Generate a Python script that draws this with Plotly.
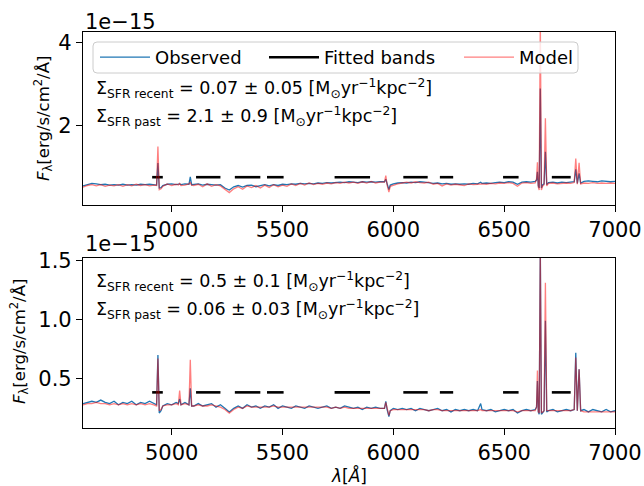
import plotly.graph_objects as go

# ---------------- data (flux in units of 1e-15 erg/s/cm2/A) ----------------
wavelength = [
    4600, 4620, 4640, 4660, 4680, 4700, 4720, 4740, 4760, 4780, 4800, 4820, 4840, 4860, 4880, 4900, 4920,
    4932, 4938, 4944,
    4952, 4960, 4980, 5000, 5020,
    5030, 5036, 5042,
    5060, 5078, 5084, 5090,
    5100, 5120, 5140, 5160, 5180, 5200, 5220, 5240, 5260, 5280, 5300, 5320, 5340, 5360, 5380, 5400,
    5420, 5440, 5460, 5480, 5500, 5520, 5540, 5560, 5580, 5600, 5620, 5640, 5660, 5680, 5700, 5720,
    5740, 5760, 5780, 5800, 5820, 5840, 5860, 5880, 5900, 5920, 5940,
    5960, 5966, 5972, 5980, 5986,
    6000, 6020, 6040, 6060, 6080, 6100, 6120, 6140, 6160, 6180, 6200, 6220, 6240, 6260, 6280, 6300,
    6320, 6340, 6360, 6380,
    6394,
    6400, 6420, 6440, 6460, 6480, 6500, 6520, 6540, 6560, 6580, 6600, 6620, 6640,
    6646, 6650, 6654, 6658, 6663, 6668, 6674, 6680, 6686, 6692,
    6700, 6720, 6740, 6760, 6780, 6800,
    6816, 6823, 6830, 6838, 6845,
    6860, 6880, 6900, 6920, 6940, 6960, 6980, 7000,
]

top_observed = [
    0.55, 0.58, 0.61, 0.60, 0.58, 0.59, 0.57, 0.58, 0.57, 0.59, 0.57, 0.58, 0.57, 0.59, 0.58, 0.59, 0.58,
    0.57, 1.10, 0.50,
    0.51, 0.56, 0.59, 0.60, 0.58,
    0.59, 0.60, 0.58,
    0.60, 0.59, 0.77, 0.58,
    0.59, 0.60, 0.57, 0.59, 0.58, 0.57, 0.58, 0.50, 0.45, 0.53, 0.56, 0.52, 0.56, 0.57, 0.53, 0.56,
    0.58, 0.55, 0.58, 0.56, 0.59, 0.58, 0.60, 0.59, 0.61, 0.60, 0.61, 0.60, 0.62, 0.61, 0.63, 0.62,
    0.63, 0.64, 0.63, 0.65, 0.64, 0.63, 0.65, 0.64, 0.65, 0.64, 0.65,
    0.65, 0.71, 0.59, 0.46, 0.57,
    0.60, 0.62, 0.63, 0.62, 0.64, 0.63, 0.65, 0.64, 0.63, 0.61, 0.62, 0.60, 0.61, 0.59, 0.60, 0.59,
    0.60, 0.59, 0.61, 0.60,
    0.64,
    0.61, 0.62, 0.61, 0.63, 0.64, 0.63, 0.65, 0.64, 0.59, 0.64, 0.65, 0.64, 0.66,
    0.69, 0.89, 0.55, 0.50, 2.90, 0.50, 0.58, 0.60, 1.37, 0.58,
    0.63, 0.64, 0.62, 0.64, 0.63, 0.65,
    0.65, 0.95, 0.61, 0.85, 0.62,
    0.66, 0.67, 0.66, 0.65, 0.67, 0.66, 0.65, 0.66,
]

top_model = [
    0.52, 0.56, 0.58, 0.55, 0.58, 0.54, 0.57, 0.55, 0.58, 0.54, 0.58, 0.55, 0.59, 0.56, 0.58, 0.55, 0.57,
    0.56, 1.50, 0.46,
    0.48, 0.54, 0.60, 0.56, 0.59,
    0.57, 0.61, 0.56,
    0.57, 0.60, 0.63, 0.57,
    0.56, 0.59, 0.53, 0.60, 0.54, 0.58, 0.55, 0.46, 0.39, 0.48, 0.53, 0.47, 0.55, 0.51, 0.56, 0.50,
    0.57, 0.51, 0.58, 0.53, 0.57, 0.54, 0.60, 0.56, 0.61, 0.57, 0.62, 0.58, 0.61, 0.59, 0.62, 0.60,
    0.63, 0.61, 0.64, 0.62, 0.64, 0.61, 0.65, 0.62, 0.66, 0.62, 0.64,
    0.64, 0.80, 0.57, 0.40, 0.54,
    0.57, 0.60, 0.62, 0.64, 0.62, 0.65, 0.63, 0.62, 0.64, 0.59, 0.61, 0.55, 0.60, 0.57, 0.59, 0.58,
    0.56, 0.60, 0.58, 0.59,
    0.60,
    0.60, 0.59, 0.61, 0.60, 0.62, 0.61, 0.63, 0.61, 0.54, 0.62, 0.63, 0.61, 0.62,
    0.72, 1.12, 0.52, 0.45, 4.60, 0.45, 0.55, 0.58, 2.18, 0.55,
    0.61, 0.62, 0.60, 0.61, 0.62, 0.61,
    0.63, 1.21, 0.59, 1.11, 0.60,
    0.62, 0.61, 0.63, 0.61, 0.62, 0.61, 0.62, 0.61,
]

bottom_observed = [
    0.29, 0.30, 0.31, 0.30, 0.32, 0.30, 0.29, 0.31, 0.28, 0.30, 0.29, 0.31, 0.28, 0.30, 0.29, 0.31, 0.29,
    0.28, 0.70, 0.21,
    0.23, 0.27, 0.29, 0.28, 0.30,
    0.29, 0.33, 0.28,
    0.30, 0.28, 0.42, 0.27,
    0.27, 0.29, 0.27, 0.28, 0.29, 0.26, 0.28, 0.25, 0.22, 0.25, 0.27, 0.25, 0.28, 0.26, 0.27, 0.25,
    0.27, 0.26, 0.28, 0.25, 0.27, 0.26, 0.25, 0.27, 0.26, 0.25, 0.27, 0.26, 0.25, 0.26, 0.27, 0.25,
    0.26, 0.25, 0.27, 0.26, 0.25, 0.26, 0.24, 0.26, 0.25, 0.26, 0.25,
    0.25, 0.31, 0.24, 0.18, 0.23,
    0.25, 0.24, 0.25, 0.24, 0.25, 0.23, 0.25, 0.24, 0.23, 0.24, 0.25, 0.23, 0.24, 0.22, 0.24, 0.23,
    0.24, 0.23, 0.24, 0.23,
    0.29,
    0.24, 0.23, 0.24, 0.22, 0.23, 0.24, 0.23, 0.24, 0.21, 0.23, 0.24, 0.23, 0.24,
    0.26, 0.48, 0.22, 0.20, 1.60, 0.20, 0.22, 0.23, 0.99, 0.22,
    0.23, 0.24, 0.22, 0.23, 0.24, 0.23,
    0.24, 0.72, 0.23, 0.58, 0.23,
    0.24, 0.22, 0.24, 0.23, 0.22, 0.24, 0.22, 0.23,
]

bottom_model = [
    0.28, 0.29, 0.29, 0.30, 0.29, 0.29, 0.28, 0.29, 0.28, 0.29, 0.28, 0.29, 0.28, 0.29, 0.28, 0.29, 0.28,
    0.27, 0.67, 0.23,
    0.24, 0.27, 0.28, 0.28, 0.29,
    0.28, 0.40, 0.28,
    0.29, 0.28, 0.66, 0.27,
    0.27, 0.28, 0.27, 0.27, 0.28, 0.27, 0.26, 0.24, 0.21, 0.24, 0.26, 0.25, 0.27, 0.26, 0.26, 0.26,
    0.26, 0.26, 0.27, 0.26, 0.26, 0.26, 0.26, 0.26, 0.26, 0.26, 0.26, 0.26, 0.26, 0.26, 0.26, 0.25,
    0.26, 0.25, 0.26, 0.25, 0.25, 0.25, 0.25, 0.25, 0.25, 0.25, 0.25,
    0.25, 0.30, 0.24, 0.19, 0.23,
    0.24, 0.24, 0.24, 0.24, 0.24, 0.24, 0.24, 0.24, 0.23, 0.24, 0.24, 0.23, 0.23, 0.23, 0.23, 0.23,
    0.23, 0.23, 0.23, 0.23,
    0.24,
    0.23, 0.23, 0.23, 0.23, 0.23, 0.23, 0.23, 0.23, 0.22, 0.23, 0.23, 0.23, 0.23,
    0.26, 0.57, 0.22, 0.21, 1.58, 0.21, 0.22, 0.23, 1.31, 0.23,
    0.23, 0.23, 0.23, 0.23, 0.23, 0.23,
    0.24, 0.68, 0.23, 0.58, 0.23,
    0.22, 0.22, 0.22, 0.22, 0.22, 0.22, 0.22, 0.22,
]

band_start = [4912, 5110, 5285, 5430, 5735, 6045, 6210, 6495, 6715]
band_end = [4960, 5220, 5400, 5505, 5895, 6155, 6270, 6565, 6800]
band_level_top = 0.76
band_level_bottom = 0.385

sfr_recent = ["0.07 ± 0.05", "0.5 ± 0.1"]
sfr_past = ["2.1 ± 0.9", "0.06 ± 0.03"]

x_ticks = [5000, 5500, 6000, 6500, 7000]
top_y_ticks = [2, 4]
bottom_y_ticks = [0.5, 1.0, 1.5]

# ---------------- figure ----------------
FONT = "DejaVu Sans"
BLUE = "#1f77b4"
RED = "rgba(255,0,0,0.5)"


def band_xy(level):
    xs, ys = [], []
    for s, e in zip(band_start, band_end):
        xs += [s, e, None]
        ys += [level, level, None]
    return xs, ys


fig = go.Figure()

bx, by = band_xy(band_level_top)
fig.add_trace(go.Scatter(x=wavelength, y=top_observed, mode="lines", name="Observed",
                         line=dict(color=BLUE, width=1.3), xaxis="x", yaxis="y", legend="legend"))
fig.add_trace(go.Scatter(x=bx, y=by, mode="lines", name="Fitted bands",
                         line=dict(color="black", width=2.6), xaxis="x", yaxis="y", legend="legend2"))
fig.add_trace(go.Scatter(x=wavelength, y=top_model, mode="lines", name="Model",
                         line=dict(color=RED, width=1.3), xaxis="x", yaxis="y", legend="legend3"))

bx2, by2 = band_xy(band_level_bottom)
fig.add_trace(go.Scatter(x=wavelength, y=bottom_observed, mode="lines", showlegend=False,
                         line=dict(color=BLUE, width=1.3), xaxis="x2", yaxis="y2"))
fig.add_trace(go.Scatter(x=bx2, y=by2, mode="lines", showlegend=False,
                         line=dict(color="black", width=2.6), xaxis="x2", yaxis="y2"))
fig.add_trace(go.Scatter(x=wavelength, y=bottom_model, mode="lines", showlegend=False,
                         line=dict(color=RED, width=1.3), xaxis="x2", yaxis="y2"))

# geometry helpers (pixel -> paper)
L, R, T, B = 83, 29, 32, 58
W, H = 644, 486
PW, PH = W - L - R, H - T - B


def px(xp):
    return (xp - L) / PW


def py(yp):
    return (H - B - yp) / PH


axis_common = dict(showline=True, mirror=True, linecolor="black", linewidth=1.2,
                   ticks="outside", ticklen=6, tickwidth=1.2, tickcolor="black",
                   showgrid=False, zeroline=False, automargin=False,
                   tickfont=dict(family=FONT, size=21, color="black"))

fig.update_layout(
    width=W, height=H, autosize=False,
    margin=dict(l=L, r=R, t=T, b=B, autoexpand=False),
    paper_bgcolor="white", plot_bgcolor="white",
    font=dict(family=FONT, color="black"),
    xaxis=dict(domain=[0, 1], range=[4600, 7000], anchor="y", tickvals=x_ticks, **axis_common),
    yaxis=dict(domain=[py(205), 1], range=[0.09, 4.26], anchor="x", tickvals=top_y_ticks, **axis_common),
    xaxis2=dict(domain=[0, 1], range=[4600, 7000], anchor="y2", tickvals=x_ticks, **axis_common),
    yaxis2=dict(domain=[0, py(258)], range=[0.084, 1.52], anchor="x2", tickvals=bottom_y_ticks,
                tickformat=".1f", **axis_common),
)

leg_common = dict(bgcolor="rgba(0,0,0,0)", borderwidth=0, yanchor="middle", xanchor="left",
                  font=dict(family=FONT, size=18, color="black"), itemwidth=50,
                  tracegroupgap=0)
fig.update_layout(
    legend=dict(x=px(95), y=py(57.5), **leg_common),
    legend2=dict(x=px(264), y=py(57.5), **leg_common),
    legend3=dict(x=px(459), y=py(57.5), **leg_common),
)

# legend frame
x0, x1, y0, y1 = px(93), px(578), py(73), py(42)
rx, ry = 4 / PW, 4 / PH
path = (f"M {x0+rx},{y0} L {x1-rx},{y0} Q {x1},{y0} {x1},{y0+ry} L {x1},{y1-ry} "
        f"Q {x1},{y1} {x1-rx},{y1} L {x0+rx},{y1} Q {x0},{y1} {x0},{y1-ry} "
        f"L {x0},{y0+ry} Q {x0},{y0} {x0+rx},{y0} Z")
fig.add_shape(type="path", path=path, xref="paper", yref="paper", layer="above",
              line=dict(color="#cccccc", width=1), fillcolor="rgba(255,255,255,0.8)")

ann_font = dict(family=FONT, size=17.5, color="black")
unit = " [M<sub>⊙</sub>yr<sup>−1</sup>kpc<sup>−2</sup>]"
texts = [
    (py(88), f"Σ<sub>SFR recent</sub> = {sfr_recent[0]}{unit}"),
    (py(116), f"Σ<sub>SFR past</sub> = {sfr_past[0]}{unit}"),
    (py(281), f"Σ<sub>SFR recent</sub> = {sfr_recent[1]}{unit}"),
    (py(309), f"Σ<sub>SFR past</sub> = {sfr_past[1]}{unit}"),
]
for yy, t in texts:
    fig.add_annotation(x=px(94), y=yy, xref="paper", yref="paper", text=t, showarrow=False,
                       xanchor="left", yanchor="middle", font=ann_font)

# offset labels
for yy in [py(22), py(244)]:
    fig.add_annotation(x=0, y=yy, xref="paper", yref="paper", text="1e−15", showarrow=False,
                       xanchor="left", yanchor="middle", font=dict(family=FONT, size=21, color="black"))

# axis titles
ytitle = "<i>F</i><sub>λ</sub>[erg/s/cm<sup>2</sup>/Å]"
for xc, yc in [(px(43), py(119)), (px(19), py(342))]:
    fig.add_annotation(x=xc, y=yc, xref="paper", yref="paper", text=ytitle, showarrow=False,
                       textangle=-90, xanchor="center", yanchor="middle",
                       font=dict(family=FONT, size=16.5, color="black"))
fig.add_annotation(x=px(349), y=py(476), xref="paper", yref="paper", text="<i>λ</i>[<i>Å</i>]",
                   showarrow=False, xanchor="center", yanchor="middle",
                   font=dict(family=FONT, size=17, color="black"))

fig.write_html("out.html", config={"displayModeBar": False})

# remove the default page margin so the figure sits at the window's top-left corner
with open("out.html", "r", encoding="utf-8") as f:
    html = f.read()
html = html.replace("<body>", '<body style="margin:0;padding:0;overflow:hidden;">', 1)
with open("out.html", "w", encoding="utf-8") as f:
    f.write(html)
